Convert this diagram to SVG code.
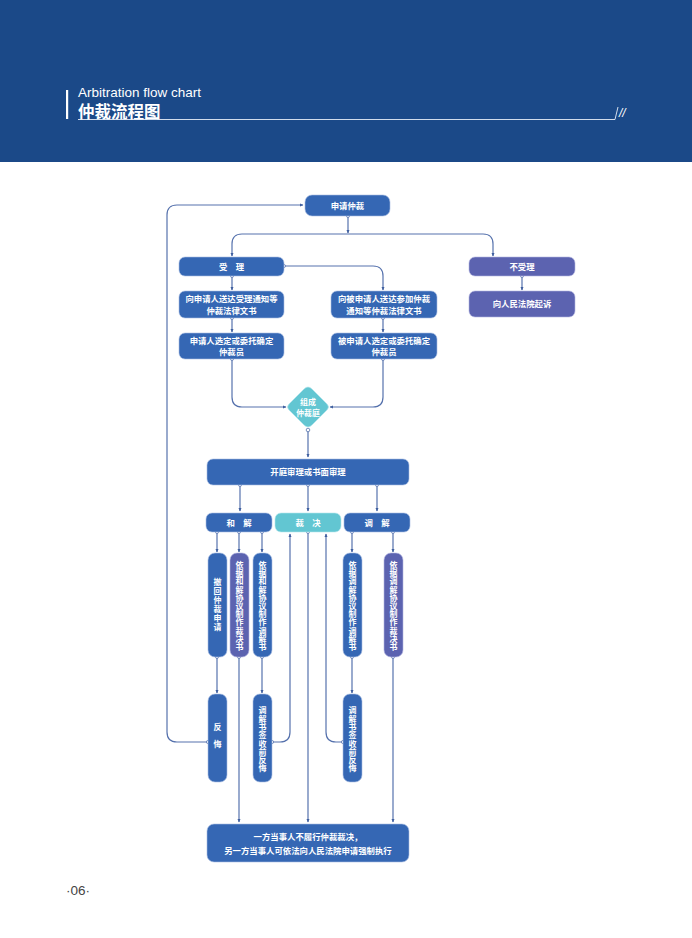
<svg xmlns="http://www.w3.org/2000/svg" width="692" height="938" viewBox="0 0 692 938">
<defs>
<style>
.b{fill:#3567b4;stroke:#a9bde3;stroke-width:0.6}
.p{fill:#5c63b0;stroke:#b3b6e0;stroke-width:0.6}
.t{fill:#62c6d2;stroke:#b6e6ec;stroke-width:0.6}
.w{fill:#fff;font-family:"Noto Sans CJK SC",sans-serif;font-size:8.4px;font-weight:bold;text-anchor:middle}
.v{fill:#fff;font-family:"Noto Sans CJK SC",sans-serif;font-size:8px;font-weight:bold;text-anchor:middle;writing-mode:vertical-rl}
.ca{fill:none;stroke:#5672ad;stroke-width:1.2;marker-end:url(#ar)}
.d{fill:#fff;stroke:#5672ad;stroke-width:0.8}
</style>
<marker id="ar" viewBox="0 0 10 10" refX="8" refY="5" markerWidth="4" markerHeight="4" orient="auto" markerUnits="userSpaceOnUse">
<path d="M0,1 L9,5 L0,9 Z" fill="#3f5f9f"/>
</marker>
</defs>
<rect width="692" height="938" fill="#fff"/>
<g id="header">
<rect x="0" y="0" width="692" height="162" fill="#1b4988"/>
<rect x="66" y="90" width="2.2" height="29" fill="#fff"/>
<text x="78" y="96.5" fill="#fff" font-family="Liberation Sans, Arial, sans-serif" font-size="13.5">Arbitration flow chart</text>
<text x="78" y="118" fill="#fff" font-family="Noto Sans CJK SC, sans-serif" font-size="16.5" font-weight="bold">仲裁流程图</text>
<path d="M78,119.5 H615 L618,107" fill="none" stroke="#e8edf6" stroke-width="0.9"/>
<text x="619" y="117" fill="#fff" font-family="Liberation Sans, Arial, sans-serif" font-size="12" font-style="italic">//</text>
</g>
<g id="connectors">
<path class="ca" d="M348,216 V233"/>
<path class="ca" d="M348,234 H242 Q232,234 232,244 V256"/>
<path class="ca" d="M348,234 H483 Q493,234 493,244 V256"/>
<path class="ca" d="M284,266 H373 Q383,266 383,276 V290"/>
<path class="ca" d="M232,276 V290"/>
<path class="ca" d="M522,276 V290"/>
<path class="ca" d="M232,318 V332"/>
<path class="ca" d="M383,318 V332"/>
<path class="ca" d="M232,359 V397 Q232,407 242,407 H286"/>
<path class="ca" d="M383,359 V397 Q383,407 373,407 H330"/>
<path class="ca" d="M308,430 V457"/>
<path class="ca" d="M240,485 V511"/>
<path class="ca" d="M308,485 V511"/>
<path class="ca" d="M377,485 V511"/>
<path class="ca" d="M217,532 V552"/>
<path class="ca" d="M239,532 V552"/>
<path class="ca" d="M262,532 V552"/>
<path class="ca" d="M352,532 V552"/>
<path class="ca" d="M393,532 V552"/>
<path class="ca" d="M217,657 V693"/>
<path class="ca" d="M262,657 V693"/>
<path class="ca" d="M352,657 V693"/>
<path class="ca" d="M239,657 V822"/>
<path class="ca" d="M308,532 V822"/>
<path class="ca" d="M393,657 V822"/>
<path class="ca" d="M208,742 H177 Q167,742 167,732 V215 Q167,205 177,205 H303"/>
<path class="ca" d="M272,742 H280 Q290,742 290,732 V534"/>
<path class="ca" d="M343,742 H336 Q326,742 326,732 V534"/>
<circle class="d" cx="348" cy="216" r="1.5"/>
<circle class="d" cx="284" cy="266" r="1.5"/>
<circle class="d" cx="232" cy="276" r="1.5"/>
<circle class="d" cx="522" cy="276" r="1.5"/>
<circle class="d" cx="232" cy="318" r="1.5"/>
<circle class="d" cx="383" cy="318" r="1.5"/>
<circle class="d" cx="232" cy="359" r="1.5"/>
<circle class="d" cx="383" cy="359" r="1.5"/>
<circle class="d" cx="308" cy="430" r="1.8"/>
<circle class="d" cx="240" cy="485" r="1.5"/>
<circle class="d" cx="308" cy="485" r="1.5"/>
<circle class="d" cx="377" cy="485" r="1.5"/>
<circle class="d" cx="217" cy="532" r="1.5"/>
<circle class="d" cx="239" cy="532" r="1.5"/>
<circle class="d" cx="262" cy="532" r="1.5"/>
<circle class="d" cx="308" cy="532" r="1.5"/>
<circle class="d" cx="352" cy="532" r="1.5"/>
<circle class="d" cx="393" cy="532" r="1.5"/>
<circle class="d" cx="217" cy="657" r="1.5"/>
<circle class="d" cx="239" cy="657" r="1.5"/>
<circle class="d" cx="262" cy="657" r="1.5"/>
<circle class="d" cx="352" cy="657" r="1.5"/>
<circle class="d" cx="393" cy="657" r="1.5"/>
<circle class="d" cx="208" cy="742" r="1.6"/>
<circle class="d" cx="272" cy="742" r="1.6"/>
<circle class="d" cx="343" cy="742" r="1.6"/>
</g>
<g id="n-apply"><rect class="b" x="305" y="195" width="85" height="21" rx="7"/><text class="w" x="347.5" y="208.5">申请仲裁</text></g>
<g id="n-accept"><rect class="b" x="179" y="257" width="105" height="19" rx="6"/><text class="w" x="231.5" y="269.5">受　理</text></g>
<g id="n-reject"><rect class="p" x="469" y="257" width="106" height="19" rx="6"/><text class="w" x="522" y="269.5">不受理</text></g>
<g id="n-court"><rect class="p" x="469" y="291" width="106" height="26" rx="6"/><text class="w" x="522" y="307">向人民法院起诉</text></g>
<g id="n-notify-a"><rect class="b" x="179" y="291" width="105" height="27" rx="6"/><text class="w" x="231.5" y="302">向申请人送达受理通知等</text><text class="w" x="231.5" y="313.5">仲裁法律文书</text></g>
<g id="n-notify-r"><rect class="b" x="331" y="291" width="106" height="27" rx="6"/><text class="w" x="384" y="302">向被申请人送达参加仲裁</text><text class="w" x="384" y="313.5">通知等仲裁法律文书</text></g>
<g id="n-select-a"><rect class="b" x="179" y="333" width="105" height="26" rx="6"/><text class="w" x="231.5" y="344">申请人选定或委托确定</text><text class="w" x="231.5" y="355">仲裁员</text></g>
<g id="n-select-r"><rect class="b" x="331" y="333" width="106" height="26" rx="6"/><text class="w" x="384" y="344">被申请人选定或委托确定</text><text class="w" x="384" y="355">仲裁员</text></g>
<g id="n-tribunal"><path d="M308,387 Q310,387 312,389 L327,404 Q330,407 327,410 L312,425 Q308,429 304,425 L289,410 Q286,407 289,404 L304,389 Q306,387 308,387 Z" fill="#62c6d2" stroke="#b6e6ec" stroke-width="0.6"/><text class="w" x="308" y="405" style="font-size:8px">组成</text><text class="w" x="308" y="415.5" style="font-size:7.8px">仲裁庭</text></g>
<g id="n-hearing"><rect class="b" x="207" y="459" width="202" height="26" rx="6"/><text class="w" x="308" y="475">开庭审理或书面审理</text></g>
<g id="n-settle"><rect class="b" x="206" y="513" width="66" height="19" rx="6"/><text class="w" x="239" y="525.5">和　解</text></g>
<g id="n-award"><rect class="t" x="275" y="513" width="66" height="19" rx="6"/><text class="w" x="308" y="525.5">裁　决</text></g>
<g id="n-mediate"><rect class="b" x="344" y="513" width="66" height="19" rx="6"/><text class="w" x="377" y="525.5">调　解</text></g>
<g id="n-withdraw"><rect class="b" x="208" y="553" width="19" height="104" rx="7"/><text class="v" x="217.5" y="605" letter-spacing="1">撤回仲裁申请</text></g>
<g id="n-settle-award"><rect class="p" x="230" y="553" width="19" height="104" rx="7"/><text class="v" x="239.5" y="606" letter-spacing="0.2">依据和解协议制作裁决书</text></g>
<g id="n-settle-med"><rect class="b" x="253" y="553" width="19" height="104" rx="7"/><text class="v" x="262.5" y="606" letter-spacing="0.2">依据和解协议制作调解书</text></g>
<g id="n-med-med"><rect class="b" x="343" y="553" width="19" height="104" rx="7"/><text class="v" x="352.5" y="606" letter-spacing="0.2">依据调解协议制作调解书</text></g>
<g id="n-med-award"><rect class="p" x="384" y="553" width="19" height="104" rx="7"/><text class="v" x="393.5" y="606" letter-spacing="0.2">依据调解协议制作裁决书</text></g>
<g id="n-regret"><rect class="b" x="208" y="694" width="19" height="88" rx="7"/><text class="v" x="217.5" y="740" letter-spacing="9">反悔</text></g>
<g id="n-regret-s"><rect class="b" x="253" y="694" width="19" height="88" rx="7"/><text class="v" x="262.5" y="739.5" letter-spacing="0.3">调解书签收前反悔</text></g>
<g id="n-regret-m"><rect class="b" x="343" y="694" width="19" height="88" rx="7"/><text class="v" x="352.5" y="739.5" letter-spacing="0.3">调解书签收前反悔</text></g>
<g id="n-enforce"><rect class="b" x="207" y="824" width="202" height="38" rx="7"/><text class="w" x="308" y="840">一方当事人不履行仲裁裁决，</text><text class="w" x="308" y="853.5">另一方当事人可依法向人民法院申请强制执行</text></g>
<g id="footer"><text x="66" y="895" fill="#444" font-family="Liberation Sans, Arial, sans-serif" font-size="13.5">·06·</text></g>
</svg>
